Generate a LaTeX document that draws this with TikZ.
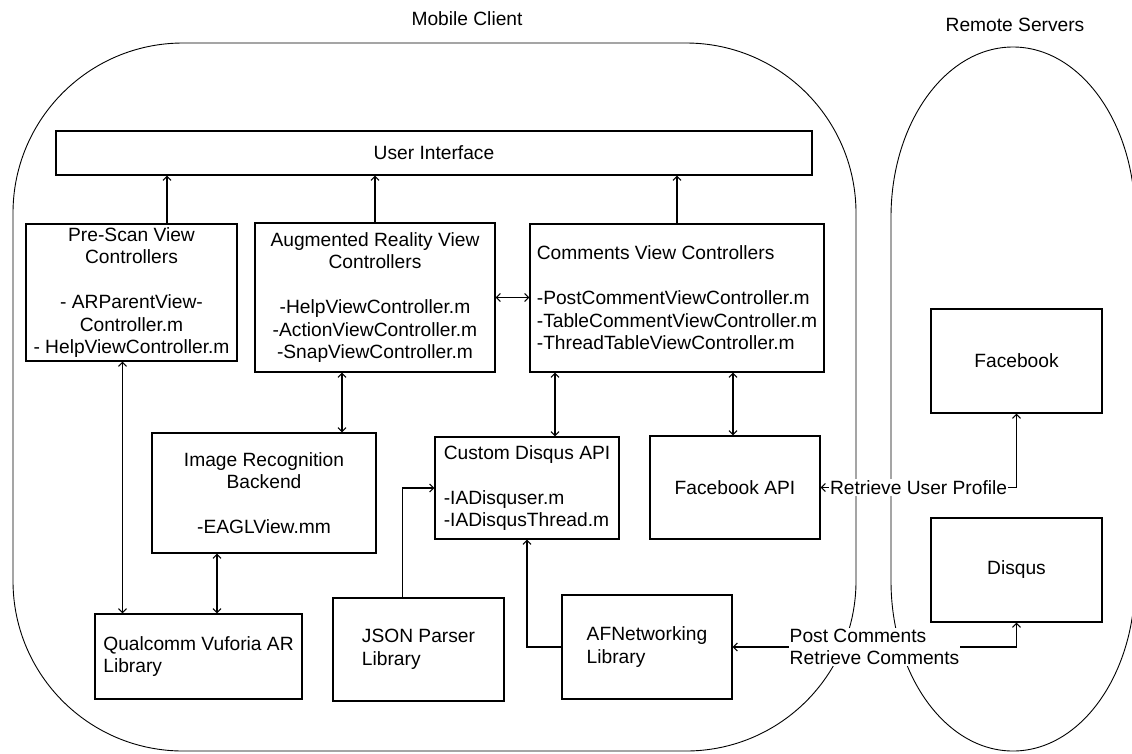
\documentclass[tikz,border=0pt]{standalone}
\usepackage{fontspec}
\setmainfont{Liberation Sans}
\usetikzlibrary{arrows.meta}
\begin{document}
\begin{tikzpicture}[x=1pt,y=-1pt,
    every node/.style={font=\fontsize{19.2}{22.5}\selectfont},
    box/.style={draw,line width=1.2pt,inner sep=2pt},
    link/.style={line width=1.1pt,>={Straight Barb[length=4pt,width=8pt]}},
    lbl/.style={fill=white,inner sep=1pt}]
  \useasboundingbox (0,0) rectangle (1132,753);
  % the two regions
  \draw[line width=0.9pt,rounded corners=170pt] (13,43) rectangle (856,751);
  \draw[line width=0.9pt] (891,217) arc[start angle=180,end angle=0,x radius=122pt,y radius=170pt]
      -- (1135,581) arc[start angle=0,end angle=-180,x radius=122pt,y radius=170pt] -- cycle;
  \node (mobile) at (467,19) {Mobile Client};
  \node (remote) at (1015,25) {Remote Servers};

  % mobile client
  \node[box,minimum width=756,minimum height=44] (ui) at (434,153) {User Interface};
  \node[box,minimum width=211,minimum height=137,align=center] (prescan) at (131.5,292.5)
      {Pre-Scan View\\Controllers\\[22.5pt]- ARParentView-\\Controller.m\\- HelpViewController.m};
  \node[box,minimum width=240,minimum height=149,align=center] (arview) at (375,297.5)
      {Augmented Reality View\\Controllers\\[22.5pt]-HelpViewController.m\\-ActionViewController.m\\-SnapViewController.m};
  \node[box,minimum width=294,minimum height=148,align=left] (comments) at (677,298)
      {Comments View Controllers\\[22.5pt]-PostCommentViewController.m\\-TableCommentViewController.m\\-ThreadTableViewController.m};
  \node[box,minimum width=224,minimum height=120,align=center] (imgrec) at (264,493)
      {Image Recognition\\Backend\\[22.5pt]-EAGLView.mm};
  \node[box,minimum width=184,minimum height=102,align=left] (disqusapi) at (527,488)
      {Custom Disqus API\\[22.5pt]-IADisquser.m\\-IADisqusThread.m};
  \node[box,minimum width=170,minimum height=103] (fbapi) at (735,487.5) {Facebook API};
  \node[box,minimum width=207,minimum height=85,align=left] (vuforia) at (198.5,656.5)
      {Qualcomm Vuforia AR\\Library};
  \node[box,minimum width=171,minimum height=103,align=left] (json) at (418.5,649.5)
      {JSON Parser\\Library};
  \node[box,minimum width=170,minimum height=104,align=left] (afnet) at (647,647)
      {AFNetworking\\Library};

  % remote servers
  \node[box,minimum width=171,minimum height=104] (facebook) at (1016.5,361) {Facebook};
  \node[box,minimum width=171,minimum height=104] (disqus) at (1016.5,570) {Disqus};

  % links
  \draw[link,->] ([xshift=35.5]prescan.north) -- ([xshift=35.5]prescan.north |- ui.south);
  \draw[link,->] (arview.north) -- (arview.north |- ui.south);
  \draw[link,->] (comments.north) -- (comments.north |- ui.south);
  \draw[link,<->] (arview.east) -- (arview.east -| comments.west);
  \draw[link,<->] ([xshift=-9]prescan.south) -- ([xshift=-9]prescan.south |- vuforia.north);
  \draw[link,<->] ([xshift=-33]arview.south) -- ([xshift=-33]arview.south |- imgrec.north);
  \draw[link,<->] ([xshift=-47]imgrec.south) -- ([xshift=-47]imgrec.south |- vuforia.north);
  \draw[link,<->] ([xshift=-122]comments.south) -- ([xshift=-122]comments.south |- disqusapi.north);
  \draw[link,<->] ([xshift=56]comments.south) -- ([xshift=56]comments.south |- fbapi.north);
  \draw[link,->] ([xshift=-16]json.north) |- (disqusapi.west);
  \draw[link,->] (afnet.west) -| (disqusapi.south);
  \draw[link,<->] (facebook.south) |- node[lbl,pos=0.75] {Retrieve User Profile} (fbapi.east);
  \draw[link,<->] (disqus.south) |- node[lbl,pos=0.75,align=left] {Post Comments\\Retrieve Comments} (afnet.east);
\end{tikzpicture}
\end{document}
